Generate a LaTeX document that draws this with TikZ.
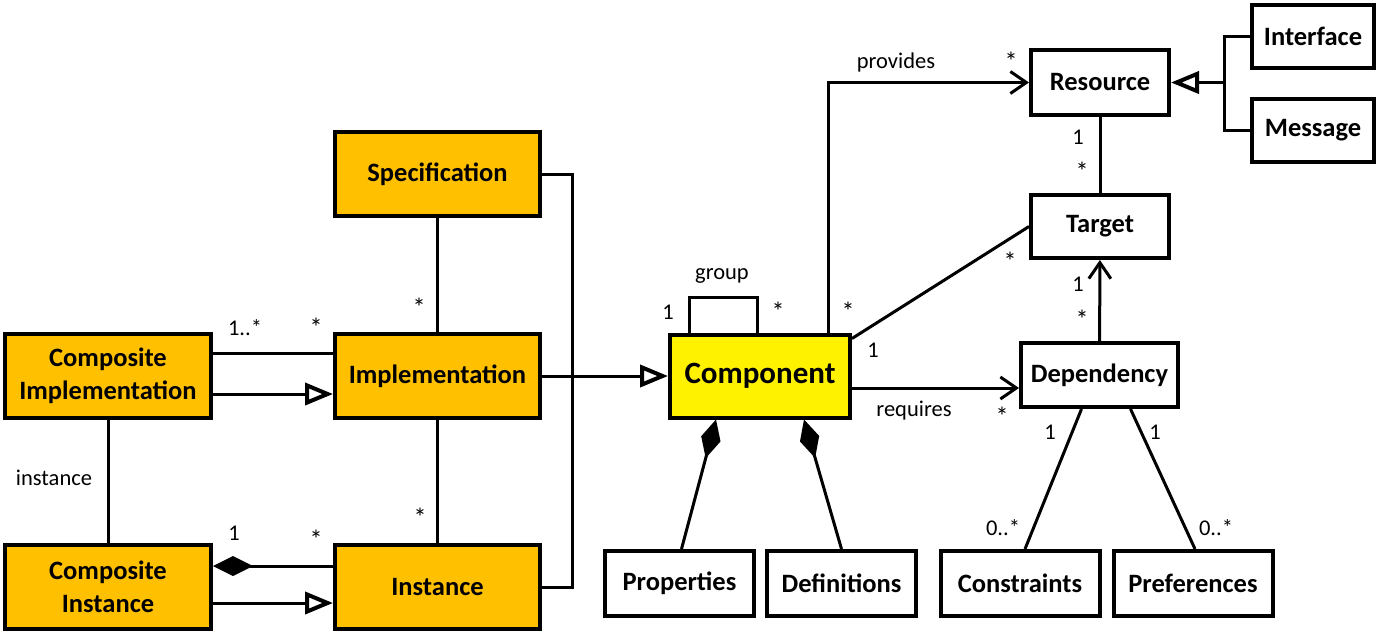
\documentclass[tikz,border=0pt]{standalone}
\usepackage{fontspec}
\setmainfont{Carlito}
\usetikzlibrary{arrows.meta}
\definecolor{gold}{HTML}{FFC000}

\tikzset{
  cls/.style={draw, line width=4pt, inner sep=0pt, align=center,
    font=\fontsize{26.5}{33}\selectfont\bfseries},
  core/.style={cls, fill=gold, minimum width=205pt, minimum height=84pt},
  plain/.style={cls, fill=white, minimum width=138pt, minimum height=65pt},
  link/.style={line width=3pt},
  gen/.style={link, -{Triangle[open, length=28pt, width=22pt, line width=4pt]}},
  nav/.style={link, -{Straight Barb[length=16pt, width=22pt, line width=3pt]}},
  comp/.style={link, {Diamond[length=40pt, width=20pt]}-},
  lbl/.style={inner sep=0pt, font=\fontsize{22.5}{26}\selectfont},
  star/.style={inner sep=0pt, font=\fontsize{26}{28}\selectfont},
}

\begin{document}
\begin{tikzpicture}[x=1pt, y=-1pt]
            \useasboundingbox (0,0) rectangle (1380,635);
            % classes
            \node[core] (spec) at (437.5,174) {Specification};
            \node[core] (impl) at (437.5,376) {Implementation};
            \node[core] (inst) at (437.5,587) {Instance};
            \node[core, minimum width=206pt] (cimpl) at (108,376) {Composite\\Implementation};
            \node[core, minimum width=206pt] (cinst) at (108,587) {Composite\\Instance};
            \node[cls, fill=yellow, minimum width=180pt, minimum height=83pt,
                  font=\fontsize{31}{36}\selectfont\bfseries] (comp) at (760,376) {Component};
            \node[plain] (res) at (1100,82.5) {Resource};
            \node[plain, minimum height=63pt] (tgt) at (1100,226.5) {Target};
            \node[plain, minimum width=122pt, minimum height=63pt] (ifc) at (1313,36) {Interface};
            \node[plain, minimum width=122pt, minimum height=63pt] (msg) at (1313,130.5) {Message};
            \node[plain, minimum width=157pt, minimum height=64pt] (dep) at (1099.5,375) {Dependency};
            \node[plain, minimum width=149pt] (prop) at (679.5,583.5) {Properties};
            \node[plain, minimum width=149pt] (defs) at (841.5,583.5) {Definitions};
            \node[plain, minimum width=159pt] (cons) at (1020,583.5) {Constraints};
            \node[plain, minimum width=159pt] (pref) at (1193,583.5) {Preferences};

            % left part
            \coordinate (bus) at (572,376);
            \draw[link] (spec.east) -| (bus) |- (inst.east);
            \draw[gen] (impl.east) -- (comp.west);
            \draw[link] (spec) -- (impl);
            \draw[link] (impl) -- (inst);
            \draw[link] (cimpl) -- (cinst);
            \draw[link] ([yshift=23pt]cimpl.east) -- ([yshift=23pt]impl.west);
            \draw[gen] ([yshift=-18pt]cimpl.east) -- ([yshift=-18pt]impl.west);
            \draw[comp] ([yshift=21pt]cinst.east) -- ([yshift=21pt]inst.west);
            \draw[gen] ([yshift=-16pt]cinst.east) -- ([yshift=-16pt]inst.west);

            % component and the rest
            \draw[link] ([xshift=-71pt]comp.north) -- ++(0,-35) -| ([xshift=-3pt]comp.north);
            \draw[nav] ([xshift=68pt]comp.north) |- (res.west);
            \draw[link] ([yshift=-6pt]comp.north east) -- (tgt.west);
            \draw[nav] ([yshift=-12pt]comp.east) -- ([yshift=-13pt]dep.west);
            \draw[nav] (dep) -- (tgt);
            \draw[link] (res) -- (tgt);
            \coordinate (hub) at (1224,82.5);
            \draw[gen] (hub) -- (res.east);
            \draw[link] (ifc.west) -| (hub) |- (msg.west);
            \draw[comp] ([xshift=-44pt]comp.south) -- ([xshift=2pt]prop.north);
            \draw[comp] ([xshift=44pt]comp.south) -- (defs.north);
            \draw[link] ([xshift=-18pt]dep.south) -- ([xshift=5pt]cons.north);
            \draw[link] ([xshift=31pt]dep.south) -- ([xshift=2pt]pref.north);

            % labels
            \node[lbl] (m1) at (245,328) {1..*};
            \node[star] (m2) at (316,327) {*};
            \node[star] (m3) at (419,307) {*};
            \node[star] (m4) at (420,517) {*};
            \node[lbl] (m5) at (234,533) {1};
            \node[star] (m6) at (316,539) {*};
            \node[lbl] (l1) at (54,478) {instance};
            \node[lbl] (l2) at (722,276) {group};
            \node[lbl] (m7) at (668,312) {1};
            \node[star] (m8) at (778,311) {*};
            \node[star] (m9) at (848,311) {*};
            \node[lbl] (m10) at (873,350) {1};
            \node[lbl] (l3) at (896,62) {provides};
            \node[star] (m11) at (1011,61) {*};
            \node[lbl] (m12) at (1078,137) {1};
            \node[star] (m13) at (1082,171) {*};
            \node[star] (m14) at (1010,261) {*};
            \node[lbl] (m15) at (1078,284) {1};
            \node[star] (m16) at (1082,319) {*};
            \node[lbl] (l4) at (914,411) {requires};
            \node[star] (m17) at (1002,416) {*};
            \node[lbl] (m18) at (1050,432) {1};
            \node[lbl] (m19) at (1155,432) {1};
            \node[lbl] (m20) at (1003,528) {0..*};
            \node[lbl] (m21) at (1216,528) {0..*};
        \end{tikzpicture}
\end{document}
